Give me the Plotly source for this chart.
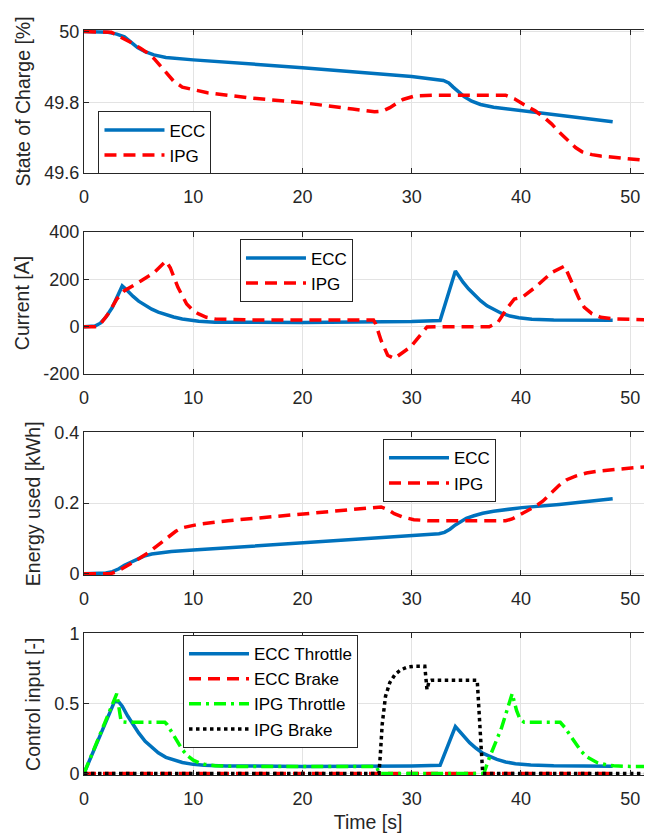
import plotly.graph_objects as go
from plotly.subplots import make_subplots

# ---------------- data ----------------
t_soc_ecc = [0, 1.4, 2.2, 3.0, 3.7, 4.3, 4.9, 5.6, 6.4, 7.5, 10, 20, 30, 32.9, 33.4, 33.8, 34.3, 34.8, 35.5, 36.3, 37.5, 39.8, 43.5, 48.4]
soc_ecc = [50, 50, 49.998, 49.993, 49.985, 49.97, 49.955, 49.943, 49.934, 49.927, 49.92, 49.898, 49.873, 49.862, 49.855, 49.843, 49.828, 49.816, 49.803, 49.794, 49.786, 49.777, 49.762, 49.745]
t_soc_ipg = [0, 2.3, 2.5, 3.0, 3.7, 4.5, 5.2, 5.8, 6.4, 7.0, 7.5, 8.2, 9.0, 10, 11.3, 15, 20, 24.6, 26.6, 27.3, 28.0, 28.6, 29.2, 30.3, 32.2, 38.6, 39.4, 40.3, 41.3, 42.2, 42.8, 43.5, 44.2, 45.0, 45.6, 46.5, 47.3, 49, 51, 52]
soc_ipg = [50, 50, 49.998, 49.99, 49.98, 49.966, 49.952, 49.94, 49.924, 49.903, 49.882, 49.86, 49.843, 49.835, 49.827, 49.813, 49.799, 49.781, 49.773, 49.775, 49.785, 49.797, 49.808, 49.818, 49.82, 49.82, 49.81, 49.793, 49.776, 49.755, 49.739, 49.716, 49.695, 49.672, 49.66, 49.652, 49.648, 49.642, 49.637, 49.635]

t_cur_ecc = [0, 0.5, 1.0, 1.5, 2.0, 2.6, 3.1, 3.5, 3.8, 4.1, 4.5, 5.0, 5.6, 6.2, 6.8, 7.5, 8.2, 9.0, 9.8, 10.5, 12, 20, 30, 32.6, 34.0, 34.3, 34.7, 35.2, 35.8, 36.3, 36.9, 37.5, 38.2, 39.0, 39.8, 41, 43, 48.4]
cur_ecc = [0, 0, 3, 15, 40, 82, 130, 172, 160, 145, 128, 108, 89, 74, 62, 50, 41, 33, 27, 23, 19, 18, 22, 26, 235, 212, 188, 160, 132, 110, 88, 72, 57, 45, 38, 32, 29, 27]
t_cur_ipg = [0, 1.0, 1.4, 2.2, 3.0, 3.7, 5.2, 6.4, 7.5, 7.9, 8.6, 9.4, 10.0, 10.5, 11.2, 12, 15, 26.5, 26.7, 27.2, 27.8, 28.4, 29.9, 30.7, 31.4, 32.2, 37.1, 37.9, 38.8, 39.4, 40.1, 41.3, 42.8, 44.0, 44.7, 45.3, 45.8, 46.5, 47.3, 48.5, 52]
cur_ipg = [0, 0, 5, 54, 117, 152, 193, 228, 277, 249, 166, 96, 68, 54, 40, 33, 29, 29, 12, -58, -120, -134, -85, -43, -1, 0, 0, 19, 82, 117, 124, 166, 228, 256, 179, 120, 82, 55, 40, 33, 29]

t_en_ecc = [0, 1.4, 2.0, 2.6, 3.2, 3.7, 4.3, 4.9, 5.5, 6.2, 7.0, 8.0, 10, 20, 30, 32.5, 33.0, 33.5, 34.0, 34.5, 35.0, 35.7, 36.5, 37.5, 38.6, 40.1, 43.5, 48.4]
en_ecc = [0, 0, 0.002, 0.006, 0.014, 0.024, 0.033, 0.042, 0.05, 0.056, 0.06, 0.063, 0.067, 0.087, 0.107, 0.113, 0.117, 0.126, 0.138, 0.149, 0.157, 0.164, 0.171, 0.177, 0.182, 0.187, 0.196, 0.212]
t_en_ipg = [0, 2.4, 3.0, 3.5, 4.1, 4.7, 5.3, 6.0, 6.6, 7.2, 7.8, 8.4, 9.0, 9.8, 10.5, 13.2, 20, 24.6, 26.5, 27.2, 27.8, 28.4, 29.2, 30.2, 31.5, 38.6, 39.2, 39.9, 40.6, 41.3, 42.0, 42.8, 43.5, 44.2, 45.0, 46.0, 47.3, 49, 51, 52]
en_ipg = [0, 0, 0.006, 0.014, 0.024, 0.036, 0.048, 0.062, 0.077, 0.092, 0.106, 0.12, 0.13, 0.136, 0.14, 0.15, 0.169, 0.181, 0.188, 0.189, 0.182, 0.17, 0.16, 0.153, 0.15, 0.15, 0.155, 0.166, 0.178, 0.19, 0.205, 0.228, 0.25, 0.266, 0.276, 0.285, 0.291, 0.296, 0.301, 0.304]

t_thr_ecc = [0, 2.8, 3.2, 3.5, 4.0, 4.5, 5.0, 5.6, 6.2, 6.8, 7.5, 8.3, 9.0, 10, 11, 13, 20, 30, 32.6, 34.0, 34.4, 34.8, 35.3, 35.9, 36.5, 37.1, 37.8, 38.6, 39.5, 40.9, 43, 48.4]
thr_ecc = [0, 0.515, 0.51, 0.48, 0.41, 0.35, 0.29, 0.23, 0.185, 0.147, 0.115, 0.093, 0.078, 0.065, 0.058, 0.054, 0.05, 0.053, 0.058, 0.335, 0.30, 0.264, 0.22, 0.18, 0.145, 0.124, 0.1, 0.082, 0.07, 0.061, 0.055, 0.052]
t_brk_ecc = [0, 48.4]
brk_ecc = [0, 0]
t_thr_ipg = [0, 3.0, 3.4, 4.0, 7.4, 7.6, 8.0, 8.5, 9.0, 9.5, 10.0, 10.5, 11.0, 12, 14, 26.8, 27.0, 36.6, 37.1, 38.2, 39.2, 39.6, 39.9, 40.3, 43.6, 44.0, 44.5, 45.0, 45.5, 46.0, 46.5, 47.0, 47.8, 48.5, 50, 52]
thr_ipg = [0, 0.57, 0.37, 0.365, 0.365, 0.35, 0.3, 0.24, 0.17, 0.125, 0.095, 0.078, 0.066, 0.055, 0.05, 0.05, 0, 0, 0.11, 0.32, 0.57, 0.45, 0.39, 0.365, 0.365, 0.33, 0.27, 0.21, 0.16, 0.12, 0.095, 0.077, 0.062, 0.055, 0.05, 0.05]
t_brk_ipg = [0, 27.0, 27.1, 27.3, 27.6, 28.0, 28.5, 29.0, 29.6, 30.2, 31.2, 31.4, 31.6, 31.8, 36.0, 36.2, 36.4, 36.5, 52]
brk_ipg = [0, 0, 0.1, 0.35, 0.55, 0.65, 0.71, 0.74, 0.76, 0.765, 0.765, 0.6, 0.66, 0.665, 0.665, 0.4, 0.1, 0, 0]

cur_tickvals = [-200, 0, 200, 400]
cur_ticktext = ["-200", "0", "200", "400"]

# ---------------- styling ----------------
FONT = "Liberation Sans, Arial, Helvetica, sans-serif"
BLUE = "#0072BD"
RED = "#FF0000"
GREEN = "#00FF00"
BLACK = "#000000"
AX = "#262626"
LW = 3.5

fig = make_subplots(rows=4, cols=1)

def add(t, y, name, color, dash, row, legend):
    fig.add_trace(go.Scatter(x=t, y=y, name=name, mode="lines",
                             line=dict(color=color, width=LW, dash=dash),
                             legend=legend), row=row, col=1)

add(t_soc_ecc, soc_ecc, "ECC", BLUE, "solid", 1, "legend")
add(t_soc_ipg, soc_ipg, "IPG", RED, "12px,7px", 1, "legend")
add(t_cur_ecc, cur_ecc, "ECC", BLUE, "solid", 2, "legend2")
add(t_cur_ipg, cur_ipg, "IPG", RED, "12px,7px", 2, "legend2")
add(t_en_ecc, en_ecc, "ECC", BLUE, "solid", 3, "legend3")
add(t_en_ipg, en_ipg, "IPG", RED, "12px,7px", 3, "legend3")
add(t_thr_ecc, thr_ecc, "ECC Throttle", BLUE, "solid", 4, "legend4")
add(t_brk_ecc, brk_ecc, "ECC Brake", RED, "12px,7px", 4, "legend4")
add(t_thr_ipg, thr_ipg, "IPG Throttle", GREEN, "12px,5px,3px,5px", 4, "legend4")
add(t_brk_ipg, brk_ipg, "IPG Brake", BLACK, "3.5px,3.5px", 4, "legend4")

domains = [[0.808, 1.0], [0.538, 0.729], [0.268, 0.460], [0.0, 0.19]]
yranges = [[49.6, 50.0045], [-200, 400], [-0.0045, 0.4], [-0.011, 1]]
ydticks = [0.2, 200, 0.2, 0.5]
ytitles = ["State of Charge [%]", "Current [A]", "Energy used [kWh]", "Control input [-]"]

common = dict(showline=True, linecolor=AX, linewidth=1, mirror="ticks",
              ticks="inside", ticklen=5, tickcolor=AX,
              showgrid=True, gridcolor="#e3e3e3", gridwidth=1,
              zeroline=False,
              tickfont=dict(family=FONT, size=18, color=AX))

for i in range(4):
    n = "" if i == 0 else str(i + 1)
    fig.layout["xaxis" + n].update(range=[0, 52], dtick=10, tick0=0, ticklabelstandoff=7, **common)
    fig.layout["yaxis" + n].update(domain=domains[i], range=yranges[i], dtick=ydticks[i], tick0=0,
                                   title=dict(text=ytitles[i], font=dict(family=FONT, size=19.5, color=AX), standoff=8),
                                   **common)
fig.layout["yaxis2"].update(tickmode="array", tickvals=cur_tickvals, ticktext=cur_ticktext)
fig.layout["xaxis4"].update(title=dict(text="Time [s]", font=dict(family=FONT, size=19.5, color=AX), standoff=7))

def leg(x, y):
    return dict(x=x, y=y, xref="paper", yref="paper", xanchor="left", yanchor="top",
                bgcolor="white", bordercolor=AX, borderwidth=1,
                font=dict(family=FONT, size=17, color="#000000"),
                itemwidth=60, tracegroupgap=0)

fig.update_layout(
    width=644, height=832,
    margin=dict(l=76, r=0, t=21.5, b=65),
    paper_bgcolor="white", plot_bgcolor="white",
    showlegend=True,
    legend=leg(0.0255, 0.8907),
    legend2=leg(0.2746, 0.719),
    legend3=leg(0.5264, 0.4507),
    legend4=leg(0.1743, 0.1878),
)

fig.write_html("out.html")
